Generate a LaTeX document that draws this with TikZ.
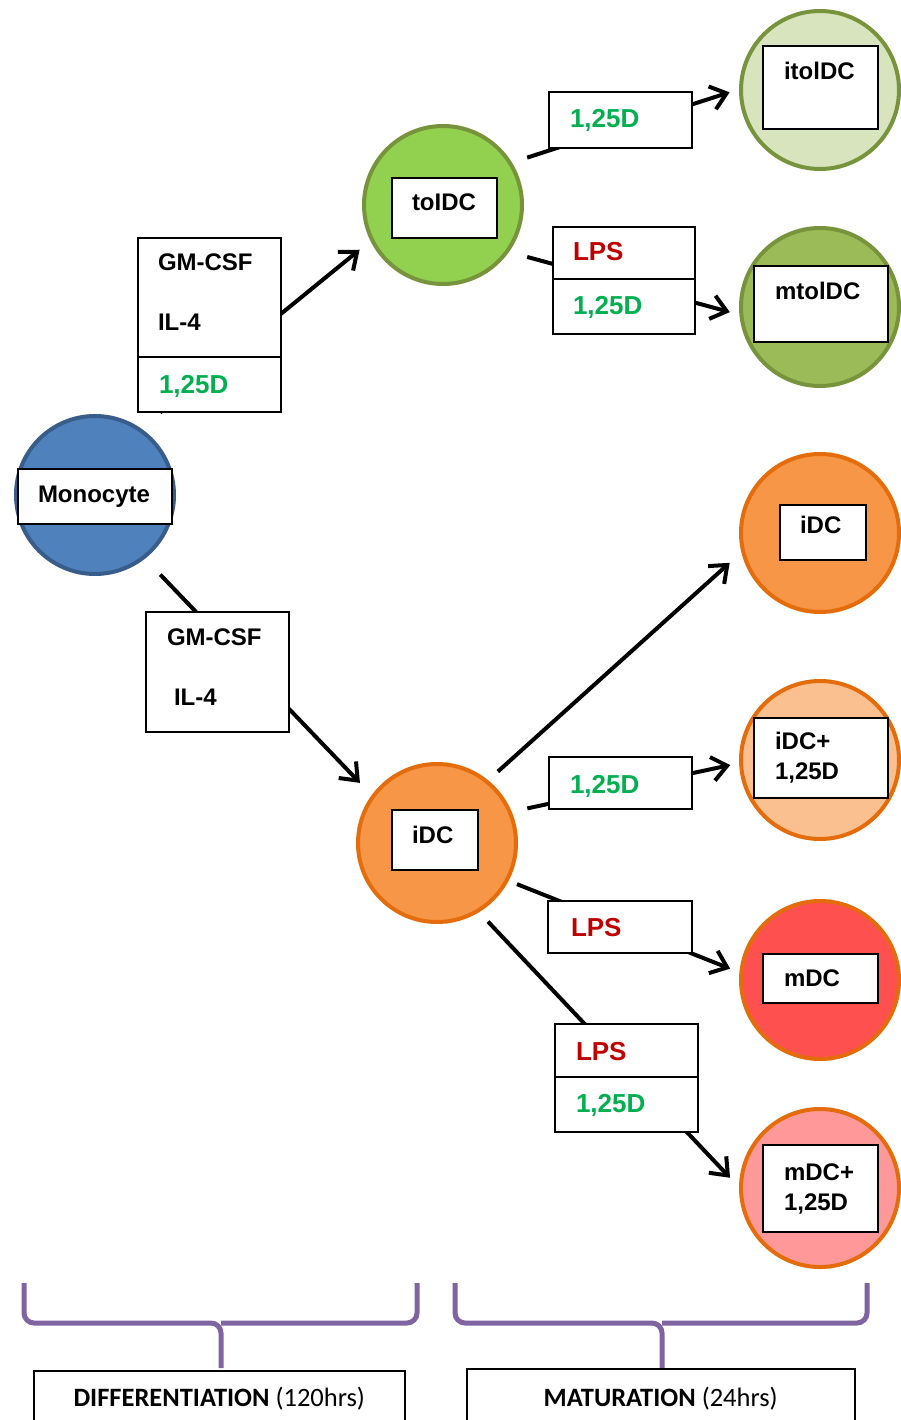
\documentclass[tikz,border=0pt]{standalone}
\usepackage{fontspec}
\setmainfont{Liberation Sans}
\newfontfamily\stagefont{Carlito}
\usepackage{tikz}
\usetikzlibrary{positioning}
\usetikzlibrary{arrows.meta}
\usetikzlibrary{backgrounds}

\definecolor{monofill}{HTML}{4F81BD}
\definecolor{monoline}{HTML}{385D8A}
\definecolor{tolfill}{HTML}{92D050}
\definecolor{itolfill}{HTML}{D7E4BD}
\definecolor{mtolfill}{HTML}{9BBB59}
\definecolor{oliveline}{HTML}{77933C}
\definecolor{idcfill}{HTML}{F79646}
\definecolor{idcpfill}{HTML}{FAC090}
\definecolor{mdcfill}{HTML}{FF5050}
\definecolor{mdcpfill}{HTML}{FF9999}
\definecolor{orangeline}{HTML}{E46C0A}
\definecolor{vitd}{HTML}{00B050}
\definecolor{lpsred}{HTML}{C00000}
\definecolor{stageline}{HTML}{8064A2}

\newcommand{\cellfnt}{\fontsize{24}{30}\selectfont\bfseries}
\newcommand{\drugfnt}{\fontsize{26}{30}\selectfont\bfseries}

\tikzset{tagsize/.style n args={4}{text width=#1pt, inner xsep=#2pt, text height=#3pt, text depth=#4pt}}

\begin{document}
\begin{tikzpicture}[
            x = 1pt, y = -1pt, % pixel grid, y goes down
            > = {Straight Barb[length=15pt,width=24pt]}, % arrow head style
            line join = miter
        ]

        \tikzstyle{cell}=[
            circle,
            minimum size = 158pt,
            inner sep = 0pt,
            outer sep = 0pt,
            line width = 4pt
        ]
        \tikzstyle{tag}=[draw, fill=white, line width=1.5pt, inner ysep=0pt, outer sep=0pt, align=left, anchor=north west]
        \tikzstyle{cellname}=[tag, font=\cellfnt]
        \tikzstyle{drugtag}=[tag, font=\drugfnt, text=vitd]
        \tikzstyle{lpstag}=[tag, font=\drugfnt, text=lpsred]
        \tikzstyle{link}=[line width=4pt, ->]
        \tikzstyle{stage}=[draw=stageline, line width=5pt, rounded corners=10pt]

        \useasboundingbox (0,0) rectangle (901,1420);

	% cells
        \node[cell, fill=monofill, draw=monoline] (mono) at (95,495) {};
        \node[cellname, tagsize={114}{20}{33}{22}] (monobox) at (18,469) {Monocyte};

        \node[cell, fill=tolfill, draw=oliveline] (toldc) at (443,205) {};
        \node[cellname, tagsize={65}{20}{33}{27}] (toldcbox) at (392,178) {toIDC};

        \node[cell, fill=idcfill, draw=orangeline] (idc) at (437,843) {};
        \node[cellname, tagsize={46}{20}{33}{27}] (idcbox) at (392,810) {iDC};

         % mature cells
        \node[cell, fill=itolfill, draw=oliveline] (itoldc) at (820,90) {};
        \node[cellname, tagsize={73}{21}{34}{49}] (itoldcbox) at (763,46) {itolDC};

        \node[cell, fill=mtolfill, draw=oliveline] (mtoldc) at (820,307) {};
        \node[cellname, tagsize={92}{21}{33}{43}] (mtoldcbox) at (754,266) {mtolDC};

        \node[cell, fill=idcfill, draw=orangeline] (idcr) at (820,533) {};
        \node[cellname, tagsize={46}{20}{28}{27}] (idcrbox) at (780,505) {iDC};

        \node[cell, fill=idcpfill, draw=orangeline] (idcp) at (820,760) {};
        \node[cellname, text width=92pt, inner xsep=21pt, minimum height=80pt] (idcpbox) at (754,718) {iDC+\\1,25D};

        \node[cell, fill=mdcfill, draw=orangeline] (mdc) at (820,980) {};
        \node[cellname, tagsize={73}{21}{32}{17}] (mdcbox) at (763,954) {mDC};

        \node[cell, fill=mdcpfill, draw=orangeline] (mdcp) at (820,1188) {};
        \node[cellname, text width=73pt, inner xsep=21pt, minimum height=87pt] (mdcpbox) at (763,1145) {mDC+\\1,25D};

         % stimuli
        \node[cellname, text width=103pt, inner xsep=20pt, minimum height=119pt] (gm1) at (138,238) {GM-CSF\\[30pt]IL-4\\[-20pt]\mbox{}};
        \node[drugtag, tagsize={101}{21}{36}{19}, anchor=north, below=0pt of gm1] (vd1) {1,25D};

        \node[cellname, text width=101pt, inner xsep=21pt, minimum height=120pt] (gm2) at (146,612) {GM-CSF\\[30pt]\hspace*{7pt}IL-4\\[-20pt]\mbox{}};

        \node[drugtag, tagsize={101}{21}{36}{20}] (vd2) at (549,92) {1,25D};

        \node[lpstag, tagsize={102}{20}{34}{18}] (lps1) at (553,227) {LPS};
        \node[drugtag, tagsize={102}{20}{35}{20}, anchor=north, below=0pt of lps1] (vd3) {1,25D};

        \node[drugtag, tagsize={101}{21}{36}{16}] (vd4) at (549,757) {1,25D};

        \node[lpstag, tagsize={98}{23}{35}{17}] (lps2) at (548,901) {LPS};

        \node[lpstag, tagsize={101}{21}{36}{17}] (lps3) at (555,1024) {LPS};
        \node[drugtag, tagsize={101}{21}{35}{20}, anchor=north, below=0pt of lps3] (vd5) {1,25D};

         % arrows
   \begin{scope}[on background layer]
        \draw[link, shorten <=27pt, shorten >=16pt] (mono.56) -- (toldc.206);
        \draw[link, shorten <=24pt, shorten >=19pt] (mono.-52) -- (idc.144);
        \draw[link, shorten <=18pt, shorten >=12pt] (toldc.32) -- (itoldc.179);
        \draw[link, shorten <=21pt, shorten >=12pt] (toldc.-36) -- (mtoldc.186);
        \draw[link, shorten <=15pt, shorten >=18pt] (idc.51) -- (idcr.193);
        \draw[link, shorten <=18pt, shorten >=11pt] (idc.23) -- (idcp.182);
        \draw[link, shorten <=11pt, shorten >=12pt] (idc.-28) -- (mdc.175);
        \draw[link, shorten <=15pt, shorten >=16pt] (idc.-59) -- (mdcp.181);
   \end{scope}

         % stages
        \draw[stage] (24,1283) -- (24,1323) -- (221,1323) -- (221,1368);
        \draw[stage] (417,1283) -- (417,1323) -- (221,1323);
        \draw[stage] (455,1283) -- (455,1323) -- (662,1323) -- (662,1368);
        \draw[stage] (867,1283) -- (867,1323) -- (662,1323);

        \node[draw, line width=1.5pt, anchor=north west, inner sep=0pt, minimum width=371pt, text height=36pt, text depth=24pt, font=\stagefont\fontsize{26.5}{30}\selectfont] (diff) at (33,1370) {\textbf{DIFFERENTIATION} (120hrs)};
        \node[draw, line width=1.5pt, anchor=north west, inner sep=0pt, minimum width=388pt, text height=38pt, text depth=24pt, font=\stagefont\fontsize{26.5}{30}\selectfont] (matur) at (466,1368) {\textbf{MATURATION} (24hrs)};

  \end{tikzpicture}
\end{document}
